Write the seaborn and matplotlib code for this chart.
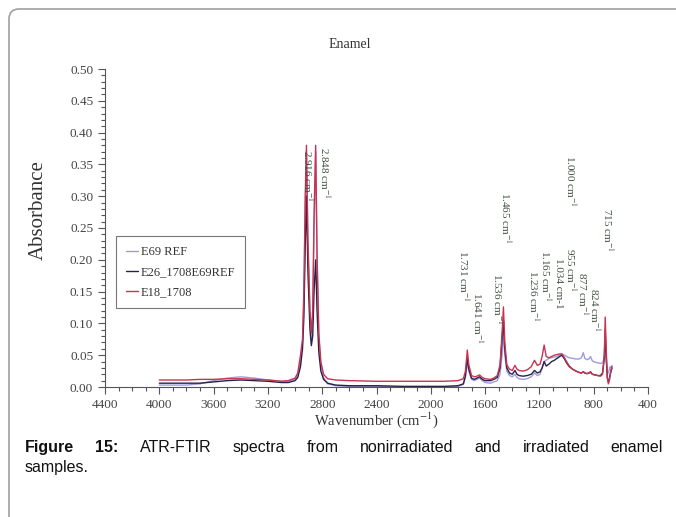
import numpy as np
import pandas as pd
import seaborn as sns
import matplotlib
matplotlib.use("Agg")
from matplotlib import pyplot as plt
from matplotlib import patches, transforms
from matplotlib.ticker import MultipleLocator

# spectra (wavenumber in cm-1, absorbance)
wavenumber = [4000, 3900, 3800, 3700, 3600, 3500, 3400, 3300, 3200, 3100,
              3050, 3000, 2980, 2960, 2945, 2935, 2925, 2916, 2905, 2890,
              2880, 2870, 2860, 2848, 2838, 2825, 2810, 2790, 2760, 2700,
              2600, 2400, 2200, 2000, 1900, 1800, 1760, 1745, 1731, 1720,
              1700, 1680, 1660, 1641, 1620, 1600, 1560, 1536, 1510, 1490,
              1475, 1465, 1455, 1440, 1420, 1400, 1380, 1365, 1350, 1320,
              1290, 1260, 1236, 1215, 1195, 1180, 1165, 1150, 1130, 1110,
              1090, 1070, 1050, 1034, 1015, 1000, 980, 955, 930, 910,
              890, 877, 865, 850, 835, 824, 810, 790, 770, 750,
              735, 722, 715, 708, 700, 692, 685, 678, 672, 665]

e69_ref = [0.003, 0.003, 0.003, 0.005, 0.010, 0.014, 0.016, 0.014, 0.011, 0.009,
           0.009, 0.012, 0.018, 0.040, 0.070, 0.140, 0.280, 0.370, 0.220, 0.110,
           0.075, 0.110, 0.250, 0.370, 0.200, 0.080, 0.035, 0.015, 0.005, 0.002,
           0.001, 0.001, 0.000, 0.000, 0.000, 0.001, 0.004, 0.015, 0.040, 0.025,
           0.012, 0.010, 0.012, 0.014, 0.010, 0.007, 0.006, 0.008, 0.010, 0.020,
           0.050, 0.085, 0.050, 0.025, 0.018, 0.016, 0.020, 0.015, 0.013, 0.012,
           0.013, 0.016, 0.022, 0.018, 0.020, 0.030, 0.040, 0.042, 0.045, 0.046,
           0.047, 0.048, 0.050, 0.052, 0.050, 0.048, 0.046, 0.045, 0.044, 0.044,
           0.046, 0.054, 0.045, 0.043, 0.044, 0.048, 0.041, 0.039, 0.038, 0.037,
           0.038, 0.045, 0.060, 0.040, 0.025, 0.022, 0.028, 0.032, 0.030, 0.034]

e26_1708 = [0.006, 0.006, 0.006, 0.006, 0.008, 0.010, 0.011, 0.010, 0.009, 0.007,
            0.007, 0.010, 0.015, 0.032, 0.060, 0.110, 0.220, 0.300, 0.180, 0.090,
            0.065, 0.080, 0.150, 0.200, 0.120, 0.055, 0.025, 0.012, 0.006, 0.003,
            0.002, 0.002, 0.001, 0.001, 0.001, 0.002, 0.005, 0.018, 0.045, 0.028,
            0.014, 0.012, 0.014, 0.016, 0.012, 0.010, 0.010, 0.012, 0.015, 0.030,
            0.075, 0.105, 0.060, 0.030, 0.022, 0.020, 0.026, 0.020, 0.018, 0.017,
            0.018, 0.020, 0.026, 0.022, 0.024, 0.030, 0.040, 0.033, 0.036, 0.040,
            0.042, 0.045, 0.048, 0.050, 0.044, 0.038, 0.032, 0.028, 0.025, 0.023,
            0.022, 0.024, 0.022, 0.021, 0.022, 0.024, 0.020, 0.019, 0.018, 0.018,
            0.022, 0.045, 0.090, 0.050, 0.015, 0.008, 0.012, 0.020, 0.025, 0.030]

e18_1708 = [0.011, 0.011, 0.011, 0.012, 0.012, 0.013, 0.013, 0.012, 0.011, 0.009,
            0.010, 0.014, 0.022, 0.050, 0.075, 0.150, 0.300, 0.380, 0.230, 0.120,
            0.085, 0.120, 0.270, 0.380, 0.210, 0.085, 0.040, 0.020, 0.013, 0.011,
            0.010, 0.009, 0.009, 0.009, 0.009, 0.010, 0.013, 0.025, 0.058, 0.035,
            0.018, 0.016, 0.017, 0.019, 0.015, 0.013, 0.012, 0.014, 0.018, 0.035,
            0.085, 0.126, 0.070, 0.035, 0.028, 0.026, 0.034, 0.028, 0.026, 0.025,
            0.027, 0.032, 0.042, 0.034, 0.036, 0.048, 0.066, 0.048, 0.046, 0.048,
            0.050, 0.051, 0.052, 0.052, 0.046, 0.040, 0.033, 0.028, 0.025, 0.023,
            0.022, 0.024, 0.022, 0.021, 0.022, 0.023, 0.020, 0.019, 0.018, 0.017,
            0.020, 0.050, 0.110, 0.060, 0.015, 0.005, 0.010, 0.020, 0.028, 0.032]

series_names = ["E69 REF", "E26_1708E69REF", "E18_1708"]
series_colors = ["#9c9ce0", "#2b2148", "#c8344f"]

# peak labels: text, wavenumber, absorbance at top of label
peak_text = ["2.916 cm$^{-1}$", "2.848 cm$^{-1}$", "1.731 cm$^{-1}$", "1.641 cm$^{-1}$",
             "1.536 cm$^{-1}$", "1.465 cm$^{-1}$", "1.236 cm$^{-1}$", "1.165 cm$^{-1}$",
             "1.034 cm-1", "1.000 cm$^{-1}$", "955 cm$^{-1}$", "877 cm$^{-1}$",
             "824 cm$^{-1}$", "715 cm$^{-1}$"]
peak_wn = [2905, 2780, 1755, 1652, 1505, 1446, 1240, 1151, 1056, 967, 967, 879, 790, 695]
peak_top = [0.373, 0.377, 0.215, 0.149, 0.179, 0.307, 0.184, 0.215, 0.203, 0.365,
            0.219, 0.181, 0.156, 0.281]

df = pd.concat([
    pd.DataFrame({"wavenumber": wavenumber, "absorbance": e69_ref, "sample": series_names[0]}),
    pd.DataFrame({"wavenumber": wavenumber, "absorbance": e26_1708, "sample": series_names[1]}),
    pd.DataFrame({"wavenumber": wavenumber, "absorbance": e18_1708, "sample": series_names[2]}),
])

sns.set_style("ticks")
plt.rcParams["font.family"] = ["Liberation Serif", "DejaVu Serif"]
plt.rcParams["mathtext.fontset"] = "stix"

W, H = 676, 517
fig = plt.figure(figsize=(W / 100, H / 100), dpi=100)
ax = fig.add_axes([105 / W, 1 - 387 / H, 543 / W, 318 / H])

sns.lineplot(data=df, x="wavenumber", y="absorbance", hue="sample",
             palette=series_colors, hue_order=series_names, estimator=None,
             sort=False, linewidth=1.0, ax=ax)

ax.set_xlim(4400, 400)
ax.set_ylim(0, 0.5)
ax.xaxis.set_major_locator(MultipleLocator(400))
ax.xaxis.set_minor_locator(MultipleLocator(100))
ax.yaxis.set_major_locator(MultipleLocator(0.05))
ax.yaxis.set_minor_locator(MultipleLocator(0.01))
ax.yaxis.set_major_formatter(matplotlib.ticker.FormatStrFormatter("%.2f"))
ax.tick_params(which="major", length=5, width=0.8, color="#555555",
               labelsize=9.5, labelcolor="#444444")
ax.tick_params(which="minor", length=3, width=0.8, color="#555555")
for s in ["top", "right"]:
    ax.spines[s].set_visible(False)
for s in ["left", "bottom"]:
    ax.spines[s].set_color("#555555")
    ax.spines[s].set_linewidth(0.8)

fig.text(350 / W, 1 - 45 / H, "Enamel", fontsize=10, color="#333333",
         ha="center", va="center")
ax.set_ylabel("Absorbance", fontsize=15, color="#333333")
ax.yaxis.set_label_coords(-0.105, 0.557)
ax.set_xlabel("Wavenumber (cm$^{-1}$)", fontsize=10.5, color="#333333")
ax.xaxis.set_label_coords(0.499, -0.075)

for txt, x, y in zip(peak_text, peak_wn, peak_top):
    ax.text(x, y, txt, rotation=270, ha="center", va="top", fontsize=8,
            color="#3f503f")

leg = ax.legend(loc="upper left", bbox_to_anchor=(0.02, 0.475), fontsize=9,
                frameon=True, fancybox=False, handlelength=1.0, handletextpad=0.2,
                labelspacing=0.65, borderpad=0.8, borderaxespad=0)
leg.get_frame().set_edgecolor("#555555")
leg.get_frame().set_linewidth(0.8)
for t in leg.get_texts():
    t.set_color("#333333")

# rounded frame round the figure
frame = patches.FancyBboxPatch((9, -60), 800, 508 + 60, boxstyle="round,pad=0,rounding_size=10",
                               transform=transforms.IdentityTransform(),
                               facecolor="none", edgecolor="#a0a0a0", linewidth=1.2)
fig.patches.append(frame)

# justified caption
renderer = fig.canvas.get_renderer()
line1 = ["Figure", "15:", "ATR-FTIR", "spectra", "from", "nonirradiated", "and",
         "irradiated", "enamel"]
bold_words = 2
texts = []
for i, w in enumerate(line1):
    texts.append(fig.text(0, 1 - 452 / H, w, fontsize=11.5, family="Liberation Sans",
                          weight="bold" if i < bold_words else "normal",
                          va="baseline", color="#111111"))
widths = [t.get_window_extent(renderer).width for t in texts]
x0, x1 = 25, 663
gap = (x1 - x0 - sum(widths)) / (len(texts) - 1)
xp = x0
for t, w in zip(texts, widths):
    t.set_x(xp / W)
    xp += w + gap
fig.text(x0 / W, 1 - 472 / H, "samples.", fontsize=11.5, family="Liberation Sans",
         va="baseline", color="#111111")

fig.savefig("out.png", dpi=100)
